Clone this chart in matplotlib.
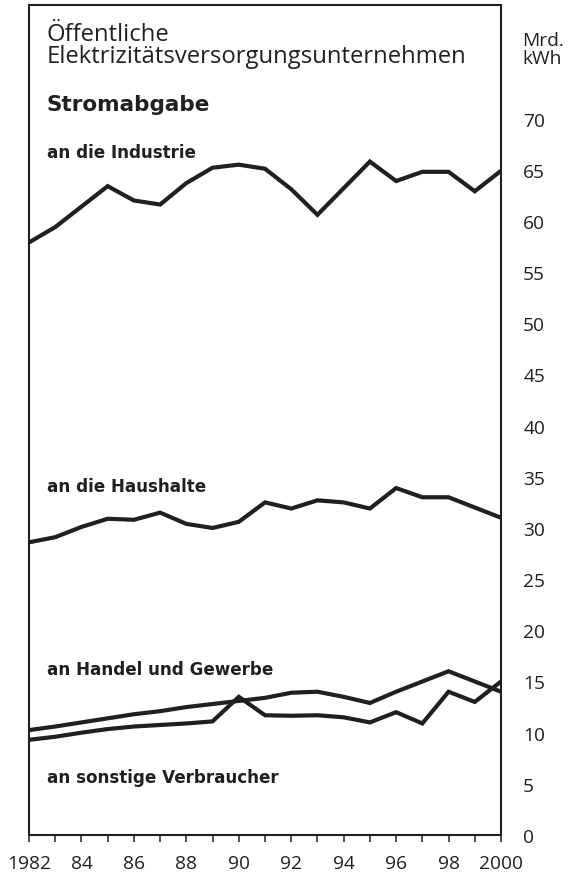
import matplotlib
matplotlib.use("Agg")
import matplotlib.pyplot as plt

years = list(range(1982, 2001))
industrie = [57.9, 59.4, 61.4, 63.4, 62.0, 61.6, 63.7, 65.2, 65.5, 65.1, 63.1, 60.6, 63.2, 65.8, 63.9, 64.8, 64.8, 62.9, 64.9]
haushalte = [28.6, 29.1, 30.1, 30.9, 30.8, 31.5, 30.4, 30.0, 30.6, 32.5, 31.9, 32.7, 32.5, 31.9, 33.9, 33.0, 33.0, 32.0, 31.0]
handel = [10.25, 10.6, 11.0, 11.4, 11.8, 12.1, 12.5, 12.8, 13.1, 13.4, 13.9, 14.0, 13.5, 12.9, 14.0, 15.0, 16.0, 15.0, 14.0]
sonstige = [9.3, 9.6, 10.0, 10.35, 10.6, 10.75, 10.9, 11.1, 13.5, 11.7, 11.65, 11.7, 11.5, 11.0, 12.0, 10.9, 14.0, 13.0, 15.0]
ytick_vals = [0, 5, 10, 15, 20, 25, 30, 35, 40, 45, 50, 55, 60, 65, 70]
xtick_labels = ["1982", "", "84", "", "86", "", "88", "", "90", "", "92", "", "94", "", "96", "", "98", "", "2000"]

plt.rcParams['font.family'] = ['Open Sans', 'DejaVu Sans']
K = '#231f20'
W, H = 568, 879
fig = plt.figure(figsize=(W / 100, H / 100), dpi=100)
ax = fig.add_axes([29 / W, 1 - 836 / H, (501 - 29) / W, (836 - 6) / H])

for s in (industrie, haushalte, handel, sonstige):
    ax.plot(years, s, color=K, lw=3.0, solid_joinstyle='miter', solid_capstyle='butt', clip_on=False)

ax.set_xlim(1982, 2000)
ax.set_ylim(0, 81.1)
for sp in ax.spines.values():
    sp.set_linewidth(1.5)
    sp.set_color(K)

ax.set_xticks(years)
ax.set_xticklabels(xtick_labels, fontsize=13.8, color=K)
ax.tick_params(axis='x', direction='out', length=5, width=1.1, color=K, pad=9)
ax.yaxis.tick_right()
ax.set_yticks(ytick_vals)
ax.set_yticklabels([str(v) for v in ytick_vals], fontsize=13.8, color=K)
ax.tick_params(axis='y', length=0, pad=16)

def ftext(x, y, s, **kw):
    fig.text(x / W, 1 - y / H, s, va='baseline', ha='left', color=K, **kw)

BOLD = dict(family=['DejaVu Sans'], fontweight='bold')
ftext(47, 40.7, 'Öffentliche', fontsize=17.2)
ftext(47, 63.3, 'Elektrizitätsversorgungsunternehmen', fontsize=17.2)
ftext(47, 111, 'Stromabgabe', fontsize=15.5, **BOLD)
ftext(47, 158, 'an die Industrie', fontsize=12.1, **BOLD)
ftext(47, 492.5, 'an die Haushalte', fontsize=12.1, **BOLD)
ftext(47, 675, 'an Handel und Gewerbe', fontsize=12.1, **BOLD)
ftext(47, 783, 'an sonstige Verbraucher', fontsize=12.1, **BOLD)
ftext(522, 46, 'Mrd.', fontsize=13.8)
ftext(522, 64, 'kWh', fontsize=13.8)

fig.savefig('out.png', dpi=100)
